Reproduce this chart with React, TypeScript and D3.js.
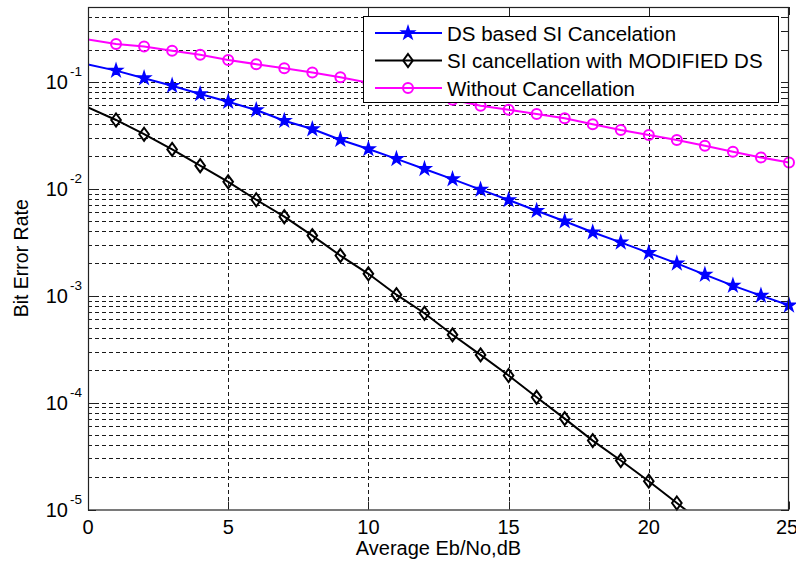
import React from "react";
import * as d3 from "d3";

const snr = d3.range(0, 26);
const dsBased = [0.145, 0.127, 0.108, 0.0918, 0.0768, 0.065, 0.0544, 0.0432, 0.0361, 0.0287, 0.0235, 0.019, 0.0153, 0.0123, 0.0098, 0.00784, 0.00622, 0.00496, 0.00391, 0.00315, 0.00251, 0.002, 0.00157, 0.00124, 0.001, 0.00081];
const modifiedDs = [0.0575, 0.0439, 0.0323, 0.0233, 0.0164, 0.0116, 0.00788, 0.00547, 0.00364, 0.00237, 0.0016, 0.00102, 0.000684, 0.00043, 0.000279, 0.000179, 0.000112, 0.0000708, 0.0000441, 0.0000287, 0.0000184, 0.0000115, 0.0000072];
const withoutCanc = [0.248, 0.225, 0.214, 0.195, 0.179, 0.16, 0.146, 0.134, 0.122, 0.11, 0.098, 0.087, 0.077, 0.068, 0.0597, 0.0547, 0.0499, 0.0456, 0.0401, 0.0354, 0.0318, 0.0285, 0.0252, 0.0222, 0.0196, 0.0176];
const xTicks = [0, 5, 10, 15, 20, 25];
const yExps = [-5, -4, -3, -2, -1];
const legendLabels = ["DS based SI Cancelation", "SI cancellation with MODIFIED DS", "Without Cancellation"];

const W = 796, H = 563;
const L = 88, R = 789, T = 7, B = 509.5;
const FONT = "'Liberation Sans', Arial, sans-serif";

const x = d3.scaleLinear().domain([0, 25]).range([L, R]);
const y = d3.scaleLog().domain([1e-5, 0.5]).range([B, T]);

const star = d3.symbol().type(d3.symbolStar).size(50)()!;
const diamond = "M0,-6.5L4.8,0L0,6.5L-4.8,0Z";

function Marker({ kind, cx, cy }: { kind: number; cx: number; cy: number }) {
  if (kind === 0) return <path d={star} transform={`translate(${cx},${cy})`} fill="#0000ff" stroke="#0000ff" strokeWidth={1.5} />;
  if (kind === 1) return <path d={diamond} transform={`translate(${cx},${cy})`} fill="none" stroke="#000" strokeWidth={2} />;
  return <circle cx={cx} cy={cy} r={5} fill="none" stroke="#ff00ff" strokeWidth={2} />;
}

export default function App() {
  const series = [
    { data: dsBased, color: "#0000ff" },
    { data: modifiedDs, color: "#000000" },
    { data: withoutCanc, color: "#ff00ff" },
  ];
  const line = d3.line<number>().x((_, i) => x(snr[i])).y((d) => y(d));

  const minorVals: number[] = [];
  const majorVals: number[] = [];
  for (let e = -5; e <= -1; e++) {
    majorVals.push(Math.pow(10, e));
    for (let m = 2; m <= 9; m++) {
      const v = m * Math.pow(10, e);
      if (v <= 0.5) minorVals.push(v);
    }
  }
  const gridVals = [...majorVals, ...minorVals].filter((v) => v > 1e-5);

  return (
    <svg width={W} height={H} style={{ position: "absolute", left: 0, top: 0, background: "#fff" }} fontFamily={FONT}>
      <defs>
        <clipPath id="plotclip">
          <rect x={L} y={T} width={R - L} height={B - T} />
        </clipPath>
      </defs>
      <rect x={L} y={T} width={R - L} height={B - T} fill="#fff" />
      {/* grid */}
      <g stroke="#1a1a1a" strokeWidth={1} strokeDasharray="4,3">
        {gridVals.map((v, i) => (
          <line key={"gy" + i} x1={L} x2={R} y1={Math.round(y(v)) + 0.5} y2={Math.round(y(v)) + 0.5} />
        ))}
        {xTicks.slice(1, -1).map((t) => (
          <line key={"gx" + t} x1={Math.round(x(t)) + 0.5} x2={Math.round(x(t)) + 0.5} y1={T} y2={B} />
        ))}
      </g>
      {/* ticks */}
      <g stroke="#222" strokeWidth={1}>
        {majorVals.concat([1e-5]).map((v, i) => (
          <g key={"mt" + i}>
            <line x1={L} x2={L + 8} y1={Math.round(y(v)) + 0.5} y2={Math.round(y(v)) + 0.5} />
            <line x1={R - 8} x2={R} y1={Math.round(y(v)) + 0.5} y2={Math.round(y(v)) + 0.5} />
          </g>
        ))}
        {minorVals.map((v, i) => (
          <g key={"nt" + i}>
            <line x1={L} x2={L + 4} y1={Math.round(y(v)) + 0.5} y2={Math.round(y(v)) + 0.5} />
            <line x1={R - 4} x2={R} y1={Math.round(y(v)) + 0.5} y2={Math.round(y(v)) + 0.5} />
          </g>
        ))}
        {xTicks.map((t) => (
          <g key={"xt" + t}>
            <line x1={Math.round(x(t)) + 0.5} x2={Math.round(x(t)) + 0.5} y1={B} y2={B - 8} />
            <line x1={Math.round(x(t)) + 0.5} x2={Math.round(x(t)) + 0.5} y1={T} y2={T + 8} />
          </g>
        ))}
      </g>
      {/* lines */}
      <g clipPath="url(#plotclip)">
        {series.map((s, i) => (
          <path key={"l" + i} d={line(s.data)!} fill="none" stroke={s.color} strokeWidth={2} />
        ))}
      </g>
      {/* markers */}
      {series.map((s, k) => (
        <g key={"m" + k}>
          {s.data.map((d, i) =>
            i >= 1 && d >= 1e-5 ? <Marker key={i} kind={k} cx={x(snr[i])} cy={y(d)} /> : null
          )}
        </g>
      ))}
      {/* axes box */}
      <rect x={L + 0.5} y={T + 0.5} width={R - L - 1} height={B - T} fill="none" stroke="#222" strokeWidth={1.2} />
      {/* x tick labels */}
      {xTicks.map((t) => (
        <text key={"xl" + t} x={t === 25 ? x(t) - 2 : x(t)} y={534} textAnchor="middle" fontSize={20} fill="#000">
          {t}
        </text>
      ))}
      {/* y tick labels */}
      {yExps.map((e) => {
        const yy = y(Math.pow(10, e));
        return (
          <g key={"yl" + e}>
            <text x={68} y={yy + 7} textAnchor="end" fontSize={20} fill="#000">10</text>
            <text x={82} y={yy - 6} textAnchor="end" fontSize={13.5} fill="#000">{e}</text>
          </g>
        );
      })}
      {/* axis labels */}
      <text x={(L + R) / 2} y={555} textAnchor="middle" fontSize={20} fill="#000">Average Eb/No,dB</text>
      <text transform={`translate(28,${(T + B) / 2}) rotate(-90)`} textAnchor="middle" fontSize={19.5} fill="#000">Bit Error Rate</text>
      {/* legend */}
      <g>
        <rect x={363.5} y={16.5} width={415} height={86} fill="#fff" stroke="#000" strokeWidth={1} />
        {legendLabels.map((lab, i) => {
          const cy = 33 + i * 27.5;
          return (
            <g key={"lg" + i}>
              <line x1={375} x2={442} y1={cy} y2={cy} stroke={series[i].color} strokeWidth={2} />
              <Marker kind={i} cx={408} cy={cy} />
              <text x={447} y={cy + 7.5} fontSize={20.5} fill="#000">{lab}</text>
            </g>
          );
        })}
      </g>
    </svg>
  );
}
